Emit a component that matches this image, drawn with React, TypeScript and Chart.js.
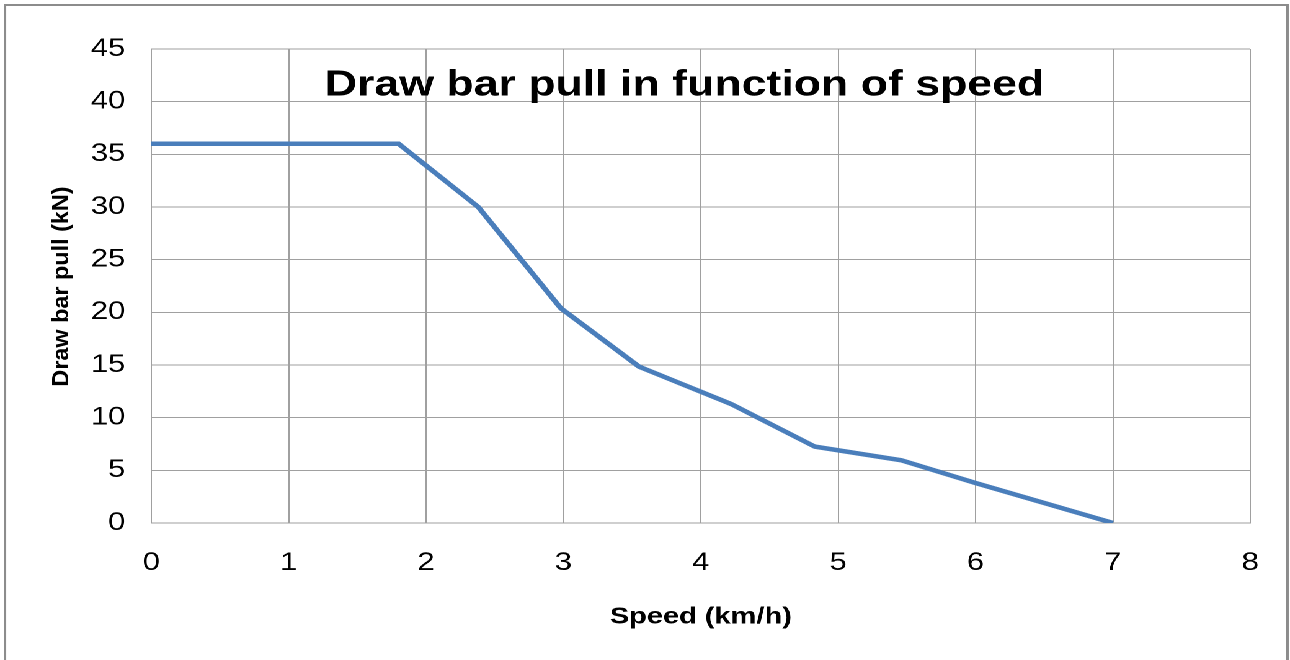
import React, { useEffect, useRef } from "react";
import { Chart, registerables } from "chart.js";

Chart.register(...registerables);

// Data
const SPEED_KMH = [0, 1.8, 2.38, 2.98, 3.55, 4.22, 4.83, 5.46, 6.0, 7.0];
const PULL_KN = [36, 36, 30, 20.4, 14.85, 11.3, 7.25, 5.95, 3.8, 0];
const X_TICKS = [0, 1, 2, 3, 4, 5, 6, 7, 8];
const Y_TICKS = [0, 5, 10, 15, 20, 25, 30, 35, 40, 45];

const CHART_TITLE = "Draw bar pull in function of speed";
const X_TITLE = "Speed (km/h)";
const Y_TITLE = "Draw bar pull (kN)";

// The reference image is stretched horizontally; draw narrow and scale.
const FULL_W = 1290;
const BASE_W = 1040;
const H = 660;
const SX = FULL_W / BASE_W;

const FONT = "'Liberation Sans', Arial, Helvetica, sans-serif";
const GRID = "#a0a0a0";

const framePlugin = {
  id: "frameAndTitle",
  beforeDraw(chart: any) {
    const ctx = chart.ctx;
    ctx.save();
    ctx.fillStyle = "#ffffff";
    ctx.fillRect(0, 0, chart.width, chart.height);
    ctx.strokeStyle = "#8c8c8c";
    ctx.lineWidth = 2;
    ctx.strokeRect(5 / SX, 5, (1287.5 - 5) / SX, H + 20);
    ctx.restore();
  },
  afterDraw(chart: any) {
    const ctx = chart.ctx;
    const area = chart.chartArea;
    ctx.save();
    ctx.fillStyle = "#000000";
    ctx.font = `bold 36px ${FONT}`;
    ctx.textAlign = "center";
    ctx.textBaseline = "alphabetic";
    ctx.fillText(CHART_TITLE, 684.5 / SX, 95.5);
    ctx.restore();

    // rotated y-axis title, drawn without the horizontal stretch
    ctx.save();
    ctx.fillStyle = "#000000";
    ctx.font = `bold 23.4px ${FONT}`;
    ctx.textAlign = "center";
    ctx.textBaseline = "alphabetic";
    ctx.translate(68.5 / SX, (area.top + area.bottom) / 2 + 0.5);
    ctx.scale(1 / SX, 1);
    ctx.rotate(-Math.PI / 2);
    ctx.fillText(Y_TITLE, 0, 0);
    ctx.restore();
  },
};

export default function App() {
  const canvasRef = useRef<HTMLCanvasElement | null>(null);

  useEffect(() => {
    if (!canvasRef.current) return;
    const points = SPEED_KMH.map((x, i) => ({ x, y: PULL_KN[i] }));
    const chart = new Chart(canvasRef.current, {
      type: "scatter",
      data: {
        datasets: [
          {
            data: points,
            showLine: true,
            borderColor: "#4a7ebb",
            backgroundColor: "#4a7ebb",
            borderWidth: 4.5,
            pointRadius: 0,
            tension: 0,
            borderJoinStyle: "miter",
          } as any,
        ],
      },
      options: {
        animation: false,
        responsive: true,
        maintainAspectRatio: false,
        devicePixelRatio: 2,
        layout: { padding: { left: 0, right: 32, top: 49, bottom: 0 } },
        plugins: {
          legend: { display: false },
          title: { display: false },
          tooltip: { enabled: false },
        },
        scales: {
          x: {
            type: "linear",
            min: 0,
            max: 8,
            afterFit: (scale: any) => {
              scale.height = 137;
            },
            afterBuildTicks: (scale: any) => {
              scale.ticks = X_TICKS.map((v) => ({ value: v }));
            },
            grid: { color: GRID, lineWidth: 1, drawTicks: false },
            border: { display: true, color: GRID, width: 1 },
            ticks: {
              padding: 25,
              color: "#000",
              font: { family: FONT, size: 25 },
              maxRotation: 0,
            },
            title: {
              display: true,
              text: X_TITLE,
              color: "#000",
              font: { family: FONT, size: 23.4, weight: "bold" },
              padding: { top: 0, bottom: 29 },
            },
          },
          y: {
            type: "linear",
            min: 0,
            max: 45,
            afterFit: (scale: any) => {
              scale.width = 122;
            },
            afterBuildTicks: (scale: any) => {
              scale.ticks = Y_TICKS.map((v) => ({ value: v }));
            },
            grid: { color: GRID, lineWidth: 1, drawTicks: false },
            border: { display: true, color: GRID, width: 1 },
            ticks: {
              padding: 21,
              color: "#000",
              font: { family: FONT, size: 25 },
            },
            title: { display: false },
          },
        },
      },
      plugins: [framePlugin],
    });
    return () => chart.destroy();
  }, []);

  return (
    <div
      style={{
        position: "absolute",
        left: 0,
        top: 0,
        width: BASE_W,
        height: H,
        transform: `scaleX(${SX})`,
        transformOrigin: "0 0",
        background: "#fff",
      }}
    >
      <canvas ref={canvasRef} />
    </div>
  );
}
